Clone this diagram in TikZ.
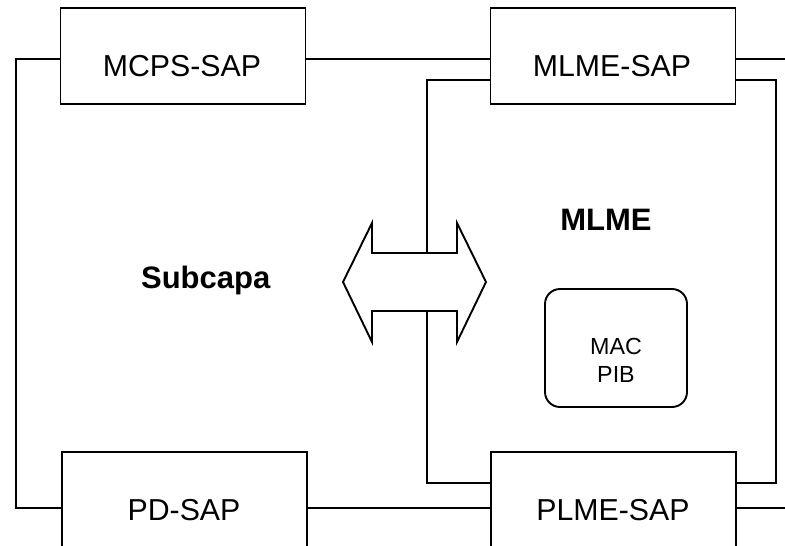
\documentclass[tikz,border=0pt]{standalone}
\usepackage{fontspec}
\setmainfont{Liberation Sans}
\usetikzlibrary{calc}
\begin{document}
\begin{tikzpicture}[x=1pt,y=-1pt,
  line width=1.9pt,
  sap/.style={draw, line width=1.9pt, minimum width=245pt, minimum height=96pt, inner sep=0pt},
  lbl/.style={anchor=base, inner sep=0pt, font=\fontsize{30.3}{36}\selectfont},
  big/.style={anchor=base, inner sep=0pt, font=\fontsize{31}{36}\selectfont\bfseries},
  pib/.style={draw, line width=1.9pt, rounded corners=15pt, minimum width=142pt, minimum height=118pt, inner sep=0pt},
  small/.style={align=center, inner sep=0pt, font=\fontsize{23.3}{28}\selectfont},
  conn/.style={draw, line width=1.9pt}
]
\useasboundingbox (0,0) rectangle (785,546);

% boxes
\node[sap] (mcps) at (183,56.3) {};
\node[sap] (mlme) at (613,56.3) {};
\node[sap] (pd)   at (184.5,500.3) {};
\node[sap] (plme) at (613.5,500.3) {};
\node[lbl] (tmcps) at (182,76) {MCPS-SAP};
\node[lbl] (tmlme) at (612,76) {MLME-SAP};
\node[lbl] (tpd)   at (184,520) {PD-SAP};
\node[lbl] (tplme) at (613,520) {PLME-SAP};

% MAC PIB
\node[pib] (macbox) at (616,348) {};
\node[small] (mactext) at (616,360.5) {MAC\\PIB};

% titles
\node[big] (sub) at (205.7,288.5) {Subcapa};
\node[big] (mlmet) at (606,230) {MLME};

% double arrow
\draw[line width=1.9pt, line join=miter]
  (343,282) -- (372,223) -- (372,253) -- (457,253) -- (457,223) -- (486,282)
  -- (457,342) -- (457,311) -- (372,311) -- (372,342) -- cycle;
\coordinate (atop) at (427,253);
\coordinate (abot) at (427,311);
\coordinate (r1) at (785,58.7);
\coordinate (r2) at (785,508);

% connectors
\draw[conn] ($(mcps.west)+(0,2.4)$) -| (16,508) -- ($(pd.west)+(0,7.7)$);
\draw[conn] ($(mcps.east)+(0,2.4)$) -- ($(mlme.west)+(0,2.4)$);
\draw[conn] ($(mlme.east)+(0,2.4)$) -- (r1);
\draw[conn] ($(mlme.west)+(0,23.7)$) -| (atop);
\draw[conn] (abot) |- ($(plme.west)+(0,-17.3)$);
\draw[conn] ($(mlme.east)+(0,23.7)$) -| ($(plme.east)+(39,-17.3)$) -- ($(plme.east)+(0,-17.3)$);
\draw[conn] ($(pd.east)+(0,7.7)$) -- ($(plme.west)+(0,7.7)$);
\draw[conn] ($(plme.east)+(0,7.7)$) -- (r2);
\end{tikzpicture}
\end{document}
